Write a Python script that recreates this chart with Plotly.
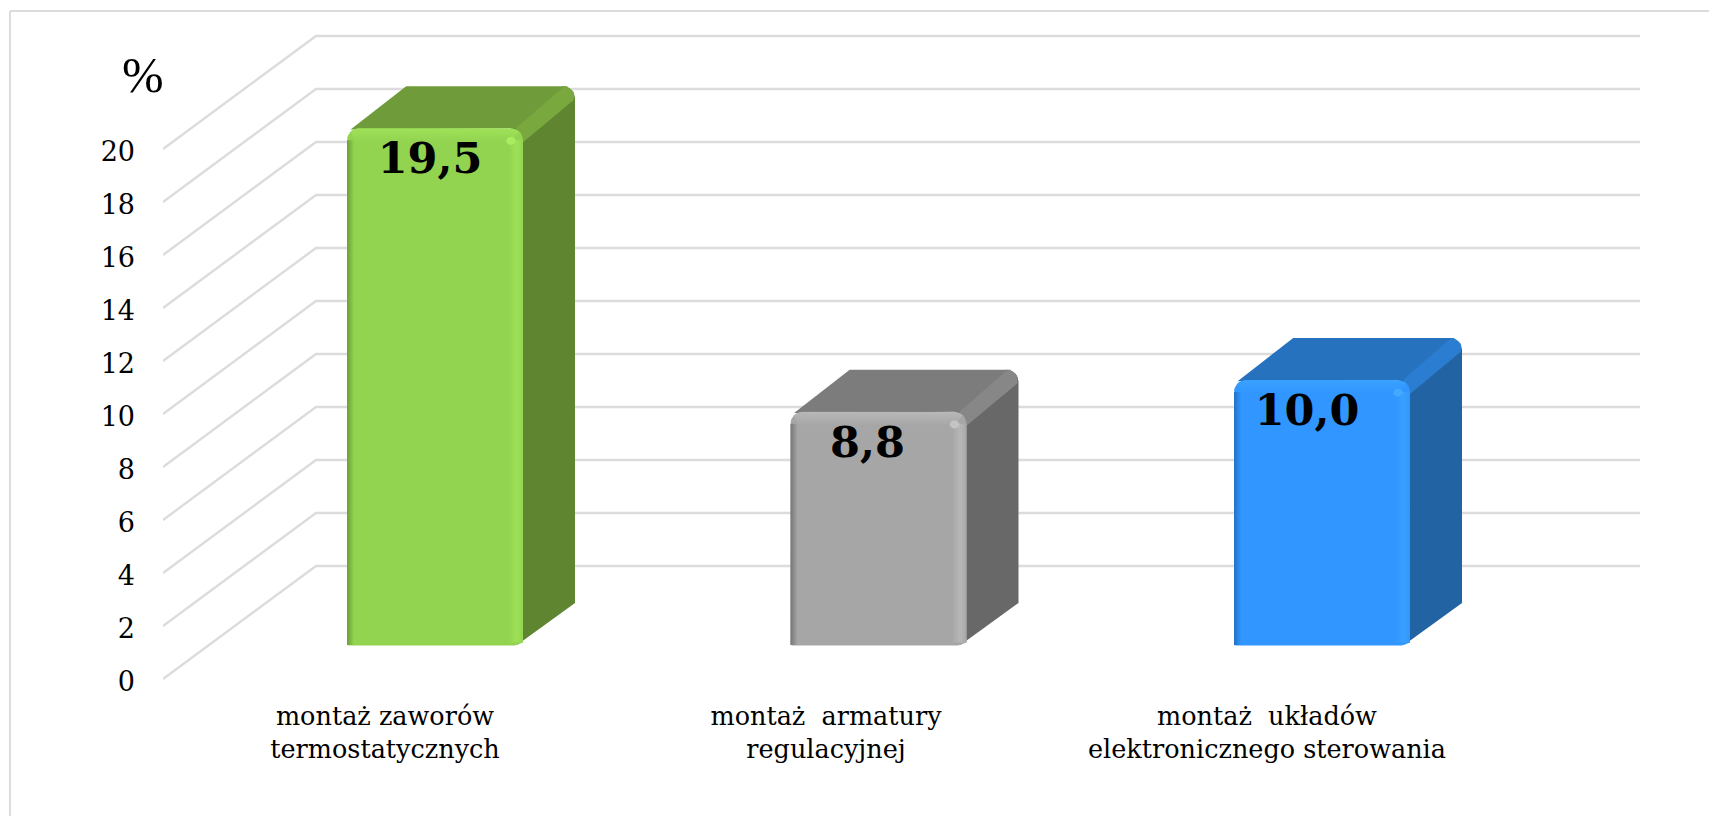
import math
import plotly.graph_objects as go

# Survey results: share of respondents per installation type, in percent
categories = ["montaż zaworów<br>termostatycznych",
              "montaż\u00a0 armatury<br>regulacyjnej",
              "montaż\u00a0 układów<br>elektronicznego sterowania"]
values = [19.5, 8.8, 10.0]
y_ticks = [0, 2, 4, 6, 8, 10, 12, 14, 16, 18, 20]
label_nudge_px = [-5, -11, -15]

# Face colours per bar
front_colors = ["#92D350", "#A6A6A6", "#3196FF"]
top_colors = ["#6F9B3B", "#7C7C7C", "#2672BF"]
side_colors = ["#5F8531", "#686868", "#2263A3"]
edge_colors = ["#78A83E", "#878787", "#2A7DD0"]
light_colors = ["#9FE258", "#B8B8B8", "#39A1FF"]
dark_colors = ["#6E9E38", "#767676", "#2272C4"]
spot_colors = ["#A8EC60", "#C4C4C4", "#45A9FF"]

GRID = "#DCDCDC"
FONT = "DejaVu Serif"
PERCENT_FONT = "Liberation Serif"

# Pixel scale of the two axes
W, H = 1709, 816
LEFT, RIGHT, TOP, BOTTOM = 163, 1640, 20, 690
PX_PER_CAT = 443.5
PX_PER_UNIT = 26.5
X0_PX = 385      # first category on the front edge of the floor
Y0_PX = 679      # value 0 on the front edge of the floor
LABEL_PITCH_PX = 441


def xu(px):
    return px / PX_PER_CAT


def yu(px):
    return px / PX_PER_UNIT


x_range = [xu(LEFT - X0_PX), xu(RIGHT - X0_PX)]
y_range = [yu(Y0_PX - BOTTOM), yu(Y0_PX - TOP)]

# Oblique projection offsets
WALL_DX, WALL_DY = xu(153), yu(113)
BAR_DX, BAR_DY = xu(50), yu(34)
DEPTH_DX, DEPTH_DY = xu(52), yu(42)
HALF_W = xu(88)
R_X, R_Y = xu(12), yu(12)
BEVEL_X, BEVEL_Y = xu(9), yu(9)

fig = go.Figure()


def poly(xs, ys, color=None, gradient=None):
    kw = dict(fillgradient=gradient) if gradient else dict(fillcolor=color)
    fig.add_trace(go.Scatter(x=xs, y=ys, mode="lines", fill="toself",
                             line=dict(width=0), hoverinfo="skip",
                             showlegend=False, **kw))


def grad(direction, c1, c2):
    return dict(type=direction, colorscale=[[0, c1], [1, c2]])


def arc(cx, cy, rx, ry, a0, a1, n=8):
    """Points along a quarter round corner, angles in degrees."""
    angles = [math.radians(a0 + (a1 - a0) * k / n) for k in range(n + 1)]
    return ([cx + rx * math.cos(a) for a in angles],
            [cy + ry * math.sin(a) for a in angles])


# Floor diagonals and the back wall gridlines
for v in y_ticks:
    fig.add_trace(go.Scatter(
        x=[x_range[0], x_range[0] + WALL_DX, x_range[1]],
        y=[v, v + WALL_DY, v + WALL_DY],
        mode="lines", line=dict(color=GRID, width=2.4),
        hoverinfo="skip", showlegend=False, cliponaxis=False))

for i, v in enumerate(values):
    x0 = i + BAR_DX - HALF_W
    x1 = i + BAR_DX + HALF_W
    y0 = BAR_DY
    y1 = v + BAR_DY
    ox, oy = DEPTH_DX, DEPTH_DY

    # Side face, with its rounded upper back corner
    bx, by = arc(x1 + ox - R_X, y1 + oy - R_Y, R_X, R_Y, 0, 90)
    poly([x1 - R_X * 0.5, x1 + ox] + bx + [x1 - R_X],
         [y0, y0 + oy] + by + [y1],
         side_colors[i])

    # Top face
    poly([x0 + R_X * 0.3, x0 + ox + R_X * 0.6, x1 + ox - R_X * 0.6, x1 - R_X * 0.3],
         [y1 - R_Y * 0.1, y1 + oy, y1 + oy, y1],
         top_colors[i])

    # Lit edge running from the front corner to the back corner
    poly([x1 - R_X * 0.6, x1 + ox - R_X * 0.9] + bx[::-1][2:7]
         + [x1 + ox - R_X * 0.1, x1 - R_X * 0.1],
         [y1, y1 + oy] + by[::-1][2:7]
         + [y1 + oy - R_Y * 1.15, y1 - R_Y * 1.25],
         edge_colors[i])

    # Front face with rounded upper corners
    lx, ly = arc(x0 + R_X, y1 - R_Y, R_X, R_Y, 180, 90)
    rx, ry = arc(x1 - R_X, y1 - R_Y, R_X, R_Y, 90, 0)
    poly([x0] + lx + rx + [x1, x1 - R_X * 0.7, x0 + R_X * 0.2],
         [y0] + ly + ry + [y0 + R_Y * 0.2, y0 - R_Y * 0.05, y0 - R_Y * 0.05],
         front_colors[i])

    # Bevel: shaded left edge, lit right and top edges
    poly([x0, x0 + BEVEL_X * 0.8, x0 + BEVEL_X * 0.8, x0],
         [y0, y0, y1 - R_Y, y1 - R_Y],
         gradient=grad("horizontal", dark_colors[i], front_colors[i]))
    poly([x1 - BEVEL_X * 1.6, x1 - BEVEL_X * 0.7, x1 - BEVEL_X * 0.7, x1 - BEVEL_X * 1.6],
         [y0 + R_Y * 0.2, y0 + R_Y * 0.2, y1 - R_Y, y1 - R_Y],
         gradient=grad("horizontal", front_colors[i], light_colors[i]))
    poly([x1 - BEVEL_X * 0.7, x1, x1, x1 - BEVEL_X * 0.7],
         [y0 + R_Y * 0.2, y0 + R_Y * 0.2, y1 - R_Y, y1 - R_Y],
         gradient=grad("horizontal", light_colors[i], front_colors[i]))
    tx, ty = arc(x0 + R_X, y1 - R_Y, R_X * 0.98, R_Y * 0.98, 135, 90, n=4)
    ux, uy = arc(x1 - R_X, y1 - R_Y, R_X * 0.98, R_Y * 0.98, 90, 45, n=4)
    poly(tx + ux + [x1 - BEVEL_X * 1.4, x0 + BEVEL_X * 0.9],
         ty + uy + [y1 - R_Y * 1.15, y1 - R_Y * 1.15],
         gradient=grad("vertical", front_colors[i], light_colors[i]))

    # Glint on the upper right corner
    sx, sy = arc(x1 - R_X, y1 - R_Y * 1.05, R_X * 0.4, R_Y * 0.35, 0, 360, n=16)
    poly(sx, sy, spot_colors[i])

# Value labels just under each bar's top edge
fig.add_trace(go.Scatter(
    x=[i + BAR_DX + xu(label_nudge_px[i]) for i in range(len(values))],
    y=[v + BAR_DY - yu(34) for v in values],
    mode="text",
    text=[f"{v:.1f}".replace(".", ",") for v in values],
    textposition="middle center",
    textfont=dict(family=FONT, size=43, color="#000000", weight="bold"),
    hoverinfo="skip", showlegend=False))

fig.update_layout(
    width=W, height=H,
    margin=dict(l=LEFT, r=W - RIGHT, t=TOP, b=H - BOTTOM, pad=0, autoexpand=False),
    paper_bgcolor="#FFFFFF", plot_bgcolor="#FFFFFF",
    showlegend=False,
    xaxis=dict(range=x_range, tickmode="array",
               tickvals=[i * LABEL_PITCH_PX / PX_PER_CAT for i in range(len(categories))],
               ticktext=categories,
               showgrid=False, zeroline=False, showline=False, ticks="",
               ticklabelstandoff=8,
               tickfont=dict(family=FONT, size=25.5, color="#000000")),
    yaxis=dict(range=y_range, tickmode="array", tickvals=y_ticks,
               ticktext=[str(t) for t in y_ticks],
               showgrid=False, zeroline=False, showline=False, ticks="",
               ticklabelstandoff=27, ticklabelshift=3,
               tickfont=dict(family=FONT, size=27, color="#000000")),
    # Chart frame, open on the right
    shapes=[dict(type="line", xref="paper", yref="paper",
                 x0=(10 - LEFT) / (RIGHT - LEFT), x1=(W - LEFT) / (RIGHT - LEFT),
                 y0=(BOTTOM - 11) / (BOTTOM - TOP), y1=(BOTTOM - 11) / (BOTTOM - TOP),
                 line=dict(color=GRID, width=2)),
            dict(type="line", xref="paper", yref="paper",
                 x0=(10 - LEFT) / (RIGHT - LEFT), x1=(10 - LEFT) / (RIGHT - LEFT),
                 y0=(BOTTOM - 11) / (BOTTOM - TOP), y1=(BOTTOM - H) / (BOTTOM - TOP),
                 line=dict(color=GRID, width=2))],
    annotations=[dict(text="%", xref="paper", yref="paper",
                      x=(143 - LEFT) / (RIGHT - LEFT), y=(BOTTOM - 75) / (BOTTOM - TOP),
                      showarrow=False, xanchor="center", yanchor="middle",
                      font=dict(family=PERCENT_FONT, size=50, color="#000000"))],
)

fig.write_html("out.html")
